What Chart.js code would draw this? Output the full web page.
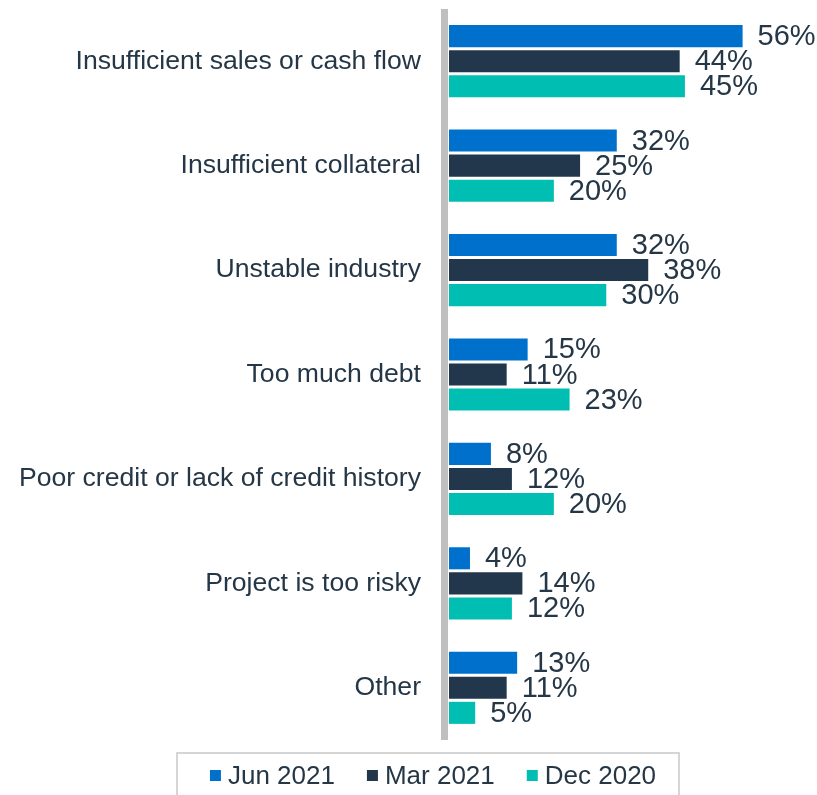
<!DOCTYPE html>
<html>
<head>
<meta charset="utf-8">
<script src="https://cdn.jsdelivr.net/npm/chart.js@4.4.0/dist/chart.umd.min.js"></script>
<style>
  html, body { margin: 0; padding: 0; background: #ffffff; }
  #wrap { width: 817px; height: 795px; }
</style>
</head>
<body>
<div id="wrap"><canvas id="reasons"></canvas></div>
<script>
// reasons for loan rejection, share of respondents (%)
const categories = [
  "Insufficient sales or cash flow",
  "Insufficient collateral",
  "Unstable industry",
  "Too much debt",
  "Poor credit or lack of credit history",
  "Project is too risky",
  "Other"
];
const seriesNames = ["Jun 2021", "Mar 2021", "Dec 2020"];
const jun2021 = [56, 32, 32, 15, 8, 4, 13];
const mar2021 = [44, 25, 38, 11, 12, 14, 11];
const dec2020 = [45, 20, 30, 23, 20, 12, 5];

const colors = ["#0070CD", "#22374B", "#00BFB2"];
const textColor = "#253746";
const fontFamily = "'Liberation Sans', Arial, sans-serif";

// value labels at the end of each bar
const valueLabels = {
  id: "valueLabels",
  afterDatasetsDraw(chart) {
    const ctx = chart.ctx;
    ctx.save();
    ctx.font = "29px " + fontFamily;
    ctx.fillStyle = textColor;
    ctx.textAlign = "left";
    ctx.textBaseline = "middle";
    chart.data.datasets.forEach((ds, i) => {
      chart.getDatasetMeta(i).data.forEach((bar, j) => {
        ctx.fillText(ds.data[j] + "%", bar.x + 15, bar.y + 1);
      });
    });
    ctx.restore();
  }
};

// thick grey baseline on the left of the plot
const baseLine = {
  id: "baseLine",
  beforeDatasetsDraw(chart) {
    const { ctx, chartArea } = chart;
    ctx.save();
    ctx.fillStyle = "#BFBFBF";
    ctx.fillRect(chartArea.left - 8, chartArea.top, 7, chartArea.bottom - chartArea.top);
    ctx.restore();
  }
};

// boxed legend along the bottom
const boxLegend = {
  id: "boxLegend",
  afterDraw(chart) {
    const ctx = chart.ctx;
    const boxLeft = 177, boxRight = 679, boxTop = 753;
    ctx.save();
    ctx.strokeStyle = "#C8C8C8";
    ctx.lineWidth = 1.5;
    ctx.strokeRect(boxLeft, boxTop, boxRight - boxLeft, 60);

    ctx.font = "26px " + fontFamily;
    ctx.textBaseline = "middle";
    ctx.textAlign = "left";
    const marker = 11, gap = 7, spacing = 32;
    const widths = chart.data.datasets.map(ds => ctx.measureText(ds.label).width);
    let total = widths.reduce((a, w) => a + w + marker + gap, 0) + spacing * (widths.length - 1);
    let x = (boxLeft + boxRight) / 2 - total / 2 + 5;
    const cy = 776;
    chart.data.datasets.forEach((ds, i) => {
      ctx.fillStyle = ds.backgroundColor;
      ctx.fillRect(x, cy - 6, marker, marker);
      ctx.fillStyle = textColor;
      ctx.fillText(ds.label, x + marker + gap, cy + 1);
      x += marker + gap + widths[i] + spacing;
    });
    ctx.restore();
  }
};

new Chart(document.getElementById("reasons"), {
  type: "bar",
  data: {
    labels: categories,
    datasets: [
      { label: seriesNames[0], data: jun2021, backgroundColor: colors[0] },
      { label: seriesNames[1], data: mar2021, backgroundColor: colors[1] },
      { label: seriesNames[2], data: dec2020, backgroundColor: colors[2] }
    ]
  },
  options: {
    indexAxis: "y",
    responsive: true,
    maintainAspectRatio: false,
    animation: false,
    categoryPercentage: 0.72,
    barPercentage: 0.88,
    layout: { padding: { top: 9, bottom: 55, left: 0, right: 1 } },
    scales: {
      x: {
        display: false,
        min: 0,
        max: 70
      },
      y: {
        afterFit(scale) {
          scale.width = 449;
          scale.paddingTop = 0;
          scale.paddingBottom = 0;
        },
        grid: { display: false, drawTicks: false },
        border: { display: false },
        ticks: {
          padding: 28,
          color: textColor,
          font: { family: fontFamily, size: 26.6 }
        }
      }
    },
    plugins: {
      legend: { display: false },
      tooltip: { enabled: false }
    }
  },
  plugins: [baseLine, valueLabels, boxLegend]
});
</script>
</body>
</html>
